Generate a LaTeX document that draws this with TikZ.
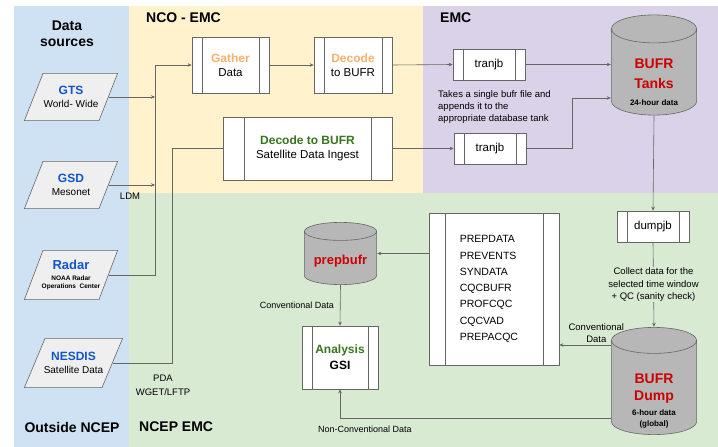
\documentclass[tikz,border=0pt]{standalone}
\usepackage{fontspec}
\setmainfont{Liberation Sans}
\usetikzlibrary{arrows.meta, positioning, calc}
\definecolor{cBlue}{HTML}{CFE2F3}
\definecolor{cYellow}{HTML}{FFF2CC}
\definecolor{cPurple}{HTML}{D9D2E9}
\definecolor{cGreen}{HTML}{D9EAD3}
\definecolor{cLine}{HTML}{666666}
\definecolor{cTank}{HTML}{B7B7B7}
\definecolor{cSrc}{HTML}{EFEFEF}
\definecolor{tBlue}{HTML}{1155CC}
\definecolor{tOrange}{HTML}{F6B26B}
\definecolor{tGreen}{HTML}{38761D}
\definecolor{tRed}{HTML}{CC0000}
\tikzset{
	title/.style    ={font=\fontsize{14}{16}\selectfont\bfseries, align=center, inner sep=0pt},
	% parallelogram drawn inside the node box, #1 = slant
	source/.style   ={rectangle, align=center, inner sep=1pt, font=\fontsize{10}{13}\selectfont,
		path picture={\draw[cLine, fill=cSrc, line width=0.6pt] let \p1=(path picture bounding box.south west), \p2=(path picture bounding box.north east) in
			(\x1+#1, \y2-0.4pt) -- (\x2-0.4pt, \y2-0.4pt) -- (\x2-#1, \y1+0.4pt) -- (\x1+0.4pt, \y1+0.4pt) -- cycle;}},
	source/.default=19pt,
	procbox/.style  ={rectangle, draw=cLine, fill=white, line width=0.6pt, align=center, inner sep=1pt, font=\fontsize{11.5}{14}\selectfont,
		path picture={\draw[cLine, line width=0.6pt] ([xshift=#1]path picture bounding box.north west) -- ([xshift=#1]path picture bounding box.south west)
			([xshift=-#1]path picture bounding box.north east) -- ([xshift=-#1]path picture bounding box.south east);}},
	procbox/.default=10pt,
	% cylinder drawn inside the node box, #1 = end radius
	tank/.style     ={rectangle, inner sep=0pt,
		path picture={\draw[cLine, fill=cTank, line width=0.6pt] let \p1=(path picture bounding box.south west), \p2=(path picture bounding box.north east), \n1={(\x2-\x1)/2-0.4pt} in
			(\x1+0.4pt, \y2-#1-0.4pt) -- (\x1+0.4pt, \y1+#1+0.4pt) arc[start angle=180, end angle=360, x radius=\n1, y radius=#1]
			-- (\x2-0.4pt, \y2-#1-0.4pt) arc[start angle=0, end angle=180, x radius=\n1, y radius=#1] -- cycle
			(\x1+0.4pt, \y2-#1-0.4pt) arc[start angle=180, end angle=360, x radius=\n1, y radius=#1];}},
	tanktext/.style ={align=center, inner sep=0pt},
	note/.style     ={font=\fontsize{9.5}{12.3}\selectfont, align=left, inner sep=1pt},
	arr/.style      ={-{Stealth[length=4pt, width=3.5pt]}, draw=cLine, line width=0.6pt},
	conn/.style     ={draw=cLine, line width=0.6pt},
}
\begin{document}
\begin{tikzpicture}[x=1pt, y=-1pt]
	\useasboundingbox (0,0) rectangle (718,447);
	% panels
	\fill[cBlue] (14,6) rectangle (129,447);
	\fill[cYellow] (129,6) rectangle (423,193);
	\fill[cPurple] (423,6) rectangle (718,193);
	\fill[cGreen] (129,193) rectangle (718,447);
	\node[title] (tsrc) at (67,34) {Data\\sources};
	\node[title, anchor=west] (tnco) at (146,18) {NCO - EMC};
	\node[title, anchor=west] (temc) at (440,18) {EMC};
	\node[title] (tout) at (72,427) {Outside NCEP};
	\node[title, anchor=west] (tncep) at (139,427) {NCEP EMC};

	% data sources
	\node[source, minimum width=94pt, minimum height=48pt] (gts) at (71,97) {\textcolor{tBlue}{\fontsize{12}{14}\selectfont\bfseries GTS}\\World- Wide};
	\node[source, minimum width=94pt, minimum height=48pt] (gsd) at (71,185) {\textcolor{tBlue}{\fontsize{12}{14}\selectfont\bfseries GSD}\\Mesonet};
	\node[source, minimum width=94pt, minimum height=50pt, font=\fontsize{6.5}{8.5}\selectfont\bfseries] (radar) at (71,275) {\textcolor{tBlue}{\fontsize{13}{15}\selectfont Radar}\\[2pt]NOAA Radar\\Operations~ Center};
	\node[source=21pt, minimum width=99pt, minimum height=50pt] (nesdis) at (73.5,363) {\textcolor{tBlue}{\fontsize{12}{14}\selectfont\bfseries NESDIS}\\Satellite Data};

	% NCO - EMC processing
	\node[procbox, minimum width=77pt, minimum height=56pt] (gather) at (230.5,65) {\textcolor{tOrange}{\fontsize{12}{14}\selectfont\bfseries Gather}\\Data};
	\node[procbox, minimum width=78pt, minimum height=56pt] (decode) at (353,65) {\textcolor{tOrange}{\fontsize{12}{14}\selectfont\bfseries Decode}\\to BUFR};
	\node[procbox=21pt, minimum width=169pt, minimum height=63pt] (satdec) at (307.5,148.5) {\textcolor{tGreen}{\fontsize{12}{14}\selectfont\bfseries Decode to BUFR}\\Satellite Data Ingest};
	\coordinate (colTop) at (155,65);
	\coordinate (satTurn) at (172,148.5);
	\draw[arr] ([xshift=-9.5pt]gts.east) -- (gts.east -| colTop);
	\draw[arr] ([xshift=-9.5pt]gsd.east) -- (gsd.east -| colTop) node[below=8pt, font=\fontsize{9.5}{11}\selectfont, inner sep=0pt, xshift=-25pt] (ldm) {LDM};
	\draw[arr] ([xshift=-9.5pt]radar.east) -| (colTop) -- (gather.west);
	\draw[conn] ([xshift=-10.5pt]nesdis.east) -| (satTurn) -- (satdec.west);
	\node[note, align=center, font=\fontsize{9.5}{14}\selectfont] (pda) at (163,385) {PDA\\WGET/LFTP};
	\draw[arr] (gather) -- (decode);

	% EMC tanks
	\node[procbox, minimum width=72pt, minimum height=31pt] (tranjbA) at (489,64.5) {tranjb};
	\node[procbox, minimum width=72pt, minimum height=31pt] (tranjbB) at (490,148.5) {tranjb};
	\node[note, anchor=west] (takes) at (437,107) {Takes a single bufr file and\\appends it to the\\appropriate database tank};
	\node[tank=14pt, minimum width=86pt, minimum height=101pt] (tanks) at (654,65) {};
	\node[tanktext, font=\fontsize{14}{20}\selectfont\bfseries] (tankslbl) at ([yshift=-17pt]tanks.center) {\textcolor{tRed}{BUFR}\\\textcolor{tRed}{Tanks}\\[-3pt]{\fontsize{8}{10}\selectfont 24-hour data}};
	\coordinate (tankTurn) at (572,98);
	\draw[arr] (decode.east) -- (tranjbA.west);
	\draw[arr] (satdec.east) -- (tranjbB.west);
	\draw[arr] (tranjbA.east) -- (tranjbA.east -| tanks.west);
	\draw[arr] (tranjbB.east) -| (tankTurn) -- (tankTurn -| tanks.west);

	% NCEP EMC dump and analysis
	\node[procbox, minimum width=72pt, minimum height=31pt] (dumpjb) at (653,226.5) {dumpjb};
	\node[tank=13pt, minimum width=86pt, minimum height=108pt] (dump) at (654,381) {};
	\node[tanktext, font=\fontsize{14}{17}\selectfont\bfseries] (dumplbl) at ([yshift=-20pt]dump.center) {\textcolor{tRed}{BUFR}\\\textcolor{tRed}{Dump}\\[-2pt]{\fontsize{8}{11}\selectfont 6-hour data}\\[-6pt]{\fontsize{8}{11}\selectfont (global)}};
	\node[procbox=16pt, minimum width=130pt, minimum height=152pt] (qclist) at (494,289) {};
	\node[note, anchor=west, font=\fontsize{10.5}{16.3}\selectfont] (qctext) at ([xshift=30pt]qclist.west) {PREPDATA\\PREVENTS\\SYNDATA\\CQCBUFR\\PROFCQC\\CQCVAD\\PREPACQC};
	\node[tank=9pt, minimum width=73pt, minimum height=63pt] (prep) at (340.5,253.5) {};
	\node[tanktext, font=\fontsize{13}{15}\selectfont\bfseries, text=tRed] (preplbl) at ([yshift=-7.5pt]prep.center) {prepbufr};
	\node[procbox, minimum width=76pt, minimum height=63pt, font=\fontsize{12}{16}\selectfont\bfseries] (gsi) at (340,357.5) {\textcolor{tGreen}{Analysis}\\GSI};
	\draw[arr] (tanks.south) -- (dumpjb.north);
	\draw[arr] (dumpjb.south) -- node[note, align=center, fill=cGreen] (collect) {Collect data for the\\selected time window\\+ QC (sanity check)} (dump.north);
	\draw[arr] ([yshift=36pt]dump.west) -- ([yshift=36pt]dump.west -| qclist.east) node[note, align=center, above right=1pt and 8pt] (convA) {Conventional\\Data};
	\draw[arr] (qclist.west |- prep.east) -- (prep.east);
	\draw[arr] (prep.south) -- node[note, left=5pt, font=\fontsize{9}{11}\selectfont] (convB) {Conventional Data} (gsi.north);
	\draw[arr] ([yshift=-37pt]dump.west) -| node[note, below=7pt, pos=0.454, font=\fontsize{9}{11}\selectfont] (nonconv) {Non-Conventional Data} (gsi.south);
\end{tikzpicture}
\end{document}
